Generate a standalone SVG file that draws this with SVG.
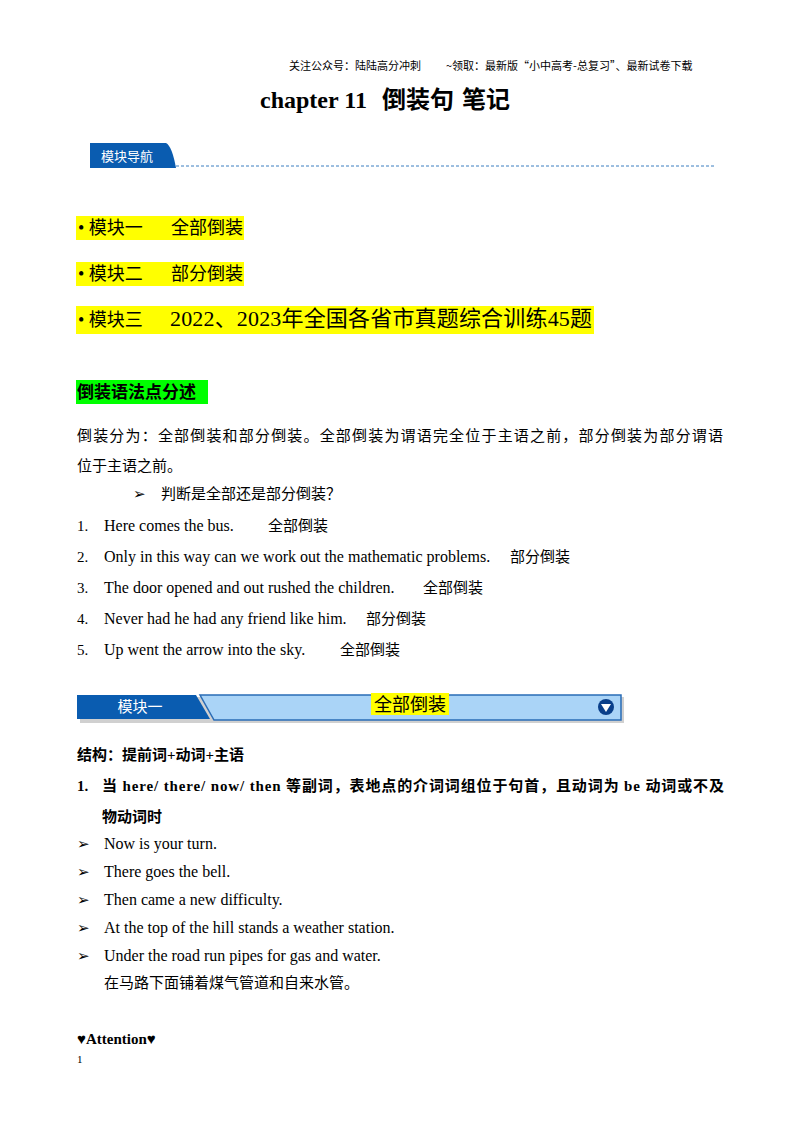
<svg xmlns="http://www.w3.org/2000/svg" width="800" height="1132" viewBox="0 0 800 1132">
<style>
.s{font-family:"Liberation Serif","Noto Sans CJK SC",serif;font-size:15px;fill:#000}
.e{font-size:16px}
.b{font-weight:bold}
.h{fill:#ffff00}
</style>
<rect width="800" height="1132" fill="#fff"/>
<text x="289" y="70" style="font-family:'Noto Sans CJK SC',sans-serif;font-size:11px">关注公众号：陆陆高分冲刺<tspan x="446">~领取：最新版“小中高考-总复习”、最新试卷下载</tspan></text>
<text x="260" y="108" class="s b" style="font-size:24px">chapter 11<tspan x="382">倒装句</tspan><tspan x="462">笔记</tspan></text>
<g id="nav">
<path d="M90 143 H166 Q172 146 176 168 H90 Z" fill="#0a5cb0"/>
<text x="101" y="161" style="font-family:'Noto Sans CJK SC',sans-serif;font-size:13px;fill:#fff">模块导航</text>
<line x1="176" y1="166" x2="714" y2="166" stroke="#3a7fc0" stroke-dasharray="3,2"/>
</g>
<rect x="76" y="216" width="168" height="24" class="h"/>
<text x="78" y="234" class="s" style="font-size:18px">• 模块一<tspan x="171">全部倒装</tspan></text>
<rect x="76" y="262" width="168" height="24" class="h"/>
<text x="78" y="280" class="s" style="font-size:18px">• 模块二<tspan x="171">部分倒装</tspan></text>
<rect x="76" y="306" width="518" height="28" class="h"/>
<text x="78" y="326" class="s" style="font-size:18px">• 模块三<tspan x="170" font-size="22" textLength="422">2022、2023年全国各省市真题综合训练45题</tspan></text>
<rect x="76" y="380" width="132" height="24" fill="#00ff00"/>
<text x="77" y="398" class="s b" style="font-size:17px">倒装语法点分述</text>
<text x="77" y="441" class="s" textLength="646">倒装分为：全部倒装和部分倒装。全部倒装为谓语完全位于主语之前，部分倒装为部分谓语</text>
<text x="77" y="471" class="s">位于主语之前。</text>
<text x="133" y="499" class="s">➢<tspan x="161">判断是全部还是部分倒装？</tspan></text>
<g class="s">
<text x="77" y="531">1.<tspan x="104" class="e">Here comes the bus.</tspan><tspan x="268">全部倒装</tspan></text>
<text x="77" y="562">2.<tspan x="104" class="e">Only in this way can we work out the mathematic problems.</tspan><tspan x="510">部分倒装</tspan></text>
<text x="77" y="593">3.<tspan x="104" class="e">The door opened and out rushed the children.</tspan><tspan x="423">全部倒装</tspan></text>
<text x="77" y="624">4.<tspan x="104" class="e">Never had he had any friend like him.</tspan><tspan x="366">部分倒装</tspan></text>
<text x="77" y="655">5.<tspan x="104" class="e">Up went the arrow into the sky.</tspan><tspan x="340">全部倒装</tspan></text>
</g>
<g id="banner">
<rect x="80" y="697" width="544" height="26" fill="#777" opacity="0.35"/>
<path d="M200 695 H621 V720 H214 Z" fill="#aad4f7" stroke="#2a6cb6" stroke-width="1.5"/>
<path d="M77 695 H196 L210 719 H77 Z" fill="#0a5cb0"/>
<text x="140" y="712" text-anchor="middle" style="font-family:'Noto Sans CJK SC',sans-serif;font-size:15px;fill:#fff">模块一</text>
<rect x="371" y="693" width="78" height="22" class="h"/>
<text x="410" y="711" text-anchor="middle" class="s" style="font-size:18px">全部倒装</text>
<circle cx="606" cy="707" r="8" fill="#0a3f8a"/>
<path d="M601 704 H611 L606 712 Z" fill="#fff"/>
</g>
<text x="77" y="760" class="s b">结构：提前词+动词+主语</text>
<text x="77" y="791" class="s b">1.<tspan x="102" textLength="622">当 here/ there/ now/ then 等副词，表地点的介词词组位于句首，且动词为 be 动词或不及</tspan></text>
<text x="102" y="822" class="s b">物动词时</text>
<g class="s">
<text x="77" y="849">➢<tspan x="104" class="e">Now is your turn.</tspan></text>
<text x="77" y="877">➢<tspan x="104" class="e">There goes the bell.</tspan></text>
<text x="77" y="905">➢<tspan x="104" class="e">Then came a new difficulty.</tspan></text>
<text x="77" y="933">➢<tspan x="104" class="e">At the top of the hill stands a weather station.</tspan></text>
<text x="77" y="961">➢<tspan x="104" class="e">Under the road run pipes for gas and water.</tspan></text>
</g>
<text x="104" y="988" class="s">在马路下面铺着煤气管道和自来水管。</text>
<text x="77" y="1044" class="s b">♥Attention♥</text>
<text x="77" y="1063" class="s" style="font-size:11px">1</text>
</svg>
